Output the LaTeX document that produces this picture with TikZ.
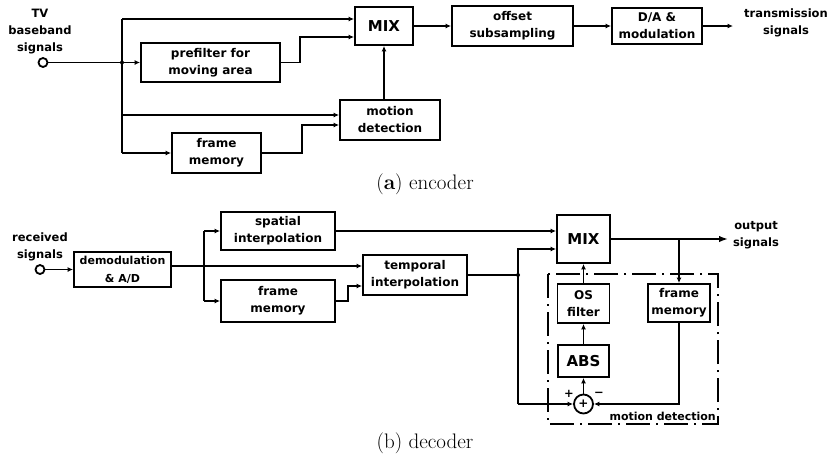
\documentclass[tikz,border=0pt]{standalone}
\usepackage{fontspec}
\setsansfont{DejaVu Sans}
\usetikzlibrary{arrows.meta,calc}
\begin{document}
\begin{tikzpicture}[x=1pt,y=-1pt,
  ln/.style={line width=1.7pt},
  arr/.style={line width=1.7pt, -{Latex[length=5.5pt,width=5pt]}},
  bigarr/.style={line width=1.7pt, -{Latex[length=9pt,width=6.5pt]}},
  blk/.style={draw, line width=1.8pt, inner sep=0pt, align=center,
    font=\sffamily\bfseries\fontsize{12}{17}\selectfont},
  big/.style={font=\sffamily\bfseries\fontsize{15}{17}\selectfont},
  lbl/.style={align=center, inner sep=0pt, font=\sffamily\bfseries\fontsize{11.5}{17}\selectfont},
  term/.style={circle, draw, line width=1.8pt, fill=white, inner sep=0pt, minimum size=9pt},
  jdot/.style={circle, fill, inner sep=0pt, minimum size=4pt},
  dashdot/.style={line width=1.4pt, dash pattern=on 24pt off 6pt on 2pt off 6pt},
  capt/.style={font=\fontsize{21}{24}\selectfont}
]
\useasboundingbox (0,0) rectangle (834,459);

% ---------------- encoder ----------------
\node[term] (tvin) at (43,62.5) {};
\node[lbl] (tvl) at (40,31.5) {TV\\baseband\\signals};
\node[blk, minimum width=139pt, minimum height=39pt] (pre) at (210.5,62.5) {prefilter for\\moving area};
\node[blk, big, minimum width=58pt, minimum height=38pt] (mix) at (384,26) {MIX};
\node[blk, minimum width=100pt, minimum height=40pt] (md) at (390,120) {motion\\detection};
\node[blk, minimum width=89pt, minimum height=40pt] (fm) at (216.5,153) {frame\\memory};
\node[blk, minimum width=121pt, minimum height=40pt] (off) at (512.5,26) {offset\\subsampling};
\node[blk, minimum width=90pt, minimum height=36pt] (da) at (657,26) {D/A \&\\modulation};
\node[lbl] (tsig) at (786,23) {transmission\\signals};
\coordinate (tout) at (733,26);

\coordinate (tA) at (122,19);
\coordinate (tB) at (122,62.5);
\coordinate (tC) at (122,115);
\coordinate (tD) at (122,153);
\coordinate (pB) at (300,37);
\coordinate (fB) at (302,125);

\draw[ln] (tA) -- (tD);
\node[jdot] (jB) at (tB) {};
\draw[arr] (tvin) -- (pre);
\draw[arr] (tA) -- (tA -| mix.west);
\draw[arr] (tC) -- (tC -| md.west);
\draw[arr] (tD) -- (fm.west);
\draw[arr] (pre.east) -| (pB) -- (pB -| mix.west);
\draw[arr] (fm.east) -| (fB) -- (fB -| md.west);
\draw[arr] (mix.south |- md.north) -- (mix.south);
\draw[arr] (mix) -- (off);
\draw[arr] (off) -- (da);
\draw[arr] (da) -- (tout);

\node[capt] (capa) at (425,184) {(\textbf{a}) encoder};

% ---------------- decoder ----------------
\node[term] (rin) at (40,269.5) {};
\node[lbl] (rl) at (40,246.5) {received\\signals};
\node[blk, minimum width=97pt, minimum height=35pt,
      font=\sffamily\bfseries\fontsize{11}{18}\selectfont] (dem) at (122.5,269.5) {demodulation\\\& A/D};
\node[blk, minimum width=114pt, minimum height=38pt] (sp) at (278,231) {spatial\\interpolation};
\node[blk, minimum width=114pt, minimum height=42pt] (fm2) at (278,301) {frame\\memory};
\node[blk, minimum width=104pt, minimum height=40pt] (tp) at (415,275) {temporal\\interpolation};
\node[blk, big, minimum width=53pt, minimum height=48pt] (mx2) at (583.5,239) {MIX};
\node[blk, minimum width=52pt, minimum height=39pt] (os) at (583.5,303.5) {OS\\filter};
\node[blk, big, minimum width=51pt, minimum height=32pt] (abs) at (583.5,361) {ABS};
\node[circle, draw, line width=1.8pt, minimum size=19pt, inner sep=0pt,
      font=\sffamily\bfseries\fontsize{12}{12}\selectfont] (sum) at (583.5,404) {+};
\node[blk, minimum width=62pt, minimum height=38pt] (fm3) at (679,303) {frame\\memory};
\node[lbl] (osig) at (756,235) {output\\signals};
\node[lbl] (plus) at (569,394) {+};
\node[lbl] (minus) at (599,394) {−};

\draw[dashdot] (548,274) rectangle (718,424);
\node[lbl, anchor=base east, font=\sffamily\bfseries\fontsize{11}{13}\selectfont] (mdl) at (716,420) {motion detection};

\coordinate (dJ) at (204,266);
\coordinate (dT) at (204,231);
\coordinate (dB) at (204,301);
\coordinate (fB2) at (348,286);
\coordinate (tJ) at (518,275);
\coordinate (tT) at (518,249);
\coordinate (tBt) at (518,404);
\coordinate (oOut) at (728,239);
\coordinate (oJ) at (679,239);
\coordinate (fmD) at (679,404);

\draw[arr] (rin) -- (dem);
\draw[ln] (dem.east |- dJ) -- (dJ);
\draw[ln] (dT) -- (dB);
\draw[arr] (dJ) -- (dJ -| tp.west);
\draw[arr] (dT) -- (sp.west);
\draw[arr] (dB) -- (fm2.west);
\draw[arr] (fm2.east) -| (fB2) -- (fB2 -| tp.west);
\draw[arr] (sp.east) -- (sp.east -| mx2.west);
\draw[ln] (tp.east) -- (tJ);
\node[jdot] (jT) at (tJ) {};
\draw[arr] (tBt) -- (tT) -- (tT -| mx2.west);
\draw[arr] (tBt) -- (sum.west);
\draw[arr] (sum.north) -- (abs.south);
\draw[arr] (abs.north) -- (os.south);
\draw[arr] (os.north) -- (mx2.south);
\draw[bigarr] (mx2.east) -- (oOut);
\draw[arr] (oJ) -- (fm3.north);
\draw[arr] (fm3.south) -- (fmD) -- (sum.east);

\node[capt] (capb) at (425,443) {(b) decoder};
\end{tikzpicture}
\end{document}
